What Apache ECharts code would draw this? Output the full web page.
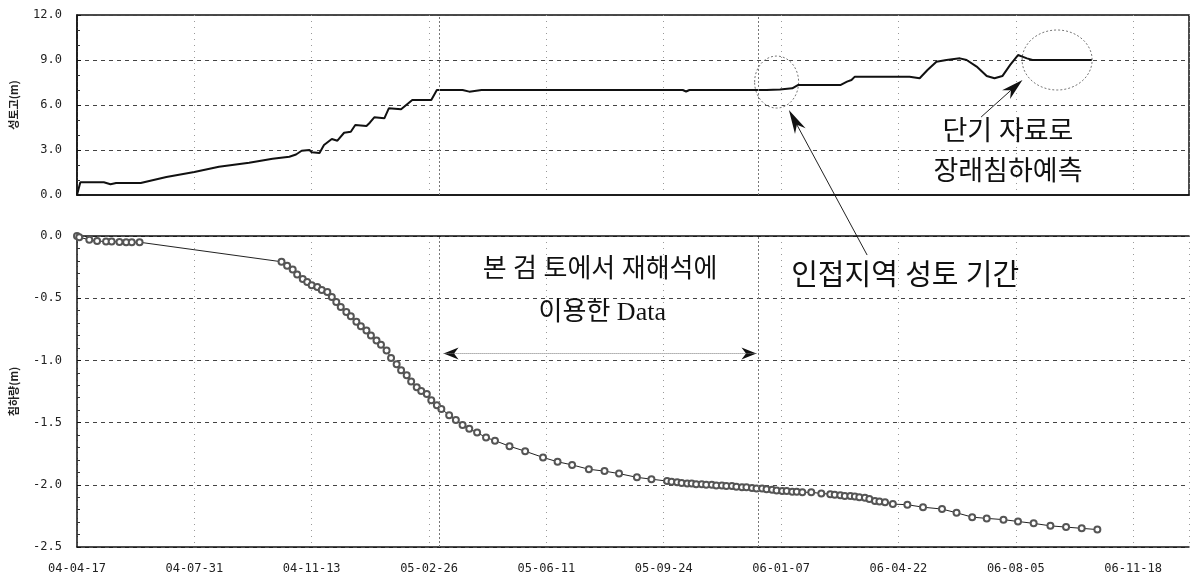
<!DOCTYPE html>
<html>
<head>
<meta charset="utf-8">
<script src="https://cdn.jsdelivr.net/npm/echarts@6/dist/echarts.min.js"></script>
<style>
  html, body { margin: 0; padding: 0; background: #fff; }
  #chart { width: 1192px; height: 579px; }
</style>
</head>
<body>
<div id="chart"></div>
<script>
// Embankment height (m) over time
const fillDates = [
  '2004-04-17','2004-04-20','2004-05-11','2004-05-17','2004-05-22','2004-06-13','2004-07-06','2004-07-31',
  '2004-08-22','2004-09-18','2004-10-09','2004-10-24','2004-10-30','2004-11-04','2004-11-11','2004-11-13',
  '2004-11-20','2004-11-24','2004-12-01','2004-12-06','2004-12-12','2004-12-18','2004-12-22','2005-01-01',
  '2005-01-04','2005-01-08','2005-01-17','2005-01-21','2005-02-01','2005-02-11','2005-02-28','2005-03-05',
  '2005-03-28','2005-04-03','2005-04-14','2005-10-11','2005-10-14','2005-10-17','2005-12-25','2006-01-06',
  '2006-01-17','2006-01-22','2006-03-01','2006-03-07','2006-03-11','2006-03-14','2006-05-02','2006-05-11',
  '2006-05-18','2006-05-26','2006-06-04','2006-06-16','2006-06-22','2006-07-01','2006-07-10','2006-07-17',
  '2006-07-24','2006-07-31','2006-08-07','2006-08-15','2006-08-20','2006-10-12'
];
const fillHeights = [
  0, 0.85, 0.85, 0.72, 0.8, 0.8, 1.2, 1.53,
  1.89, 2.15, 2.42, 2.55, 2.7, 2.95, 3.0, 2.85,
  2.8, 3.33, 3.73, 3.62, 4.15, 4.22, 4.67, 4.6,
  4.82, 5.18, 5.11, 5.78, 5.71, 6.33, 6.33, 7.0,
  7.0, 6.89, 7.0, 7.0, 6.9, 7.0, 7.0, 7.04,
  7.11, 7.33, 7.33, 7.56, 7.67, 7.89, 7.89, 7.78,
  8.33, 8.89, 9.0, 9.11, 9.0, 8.56, 7.93, 7.78,
  7.93, 8.67, 9.33, 9.11, 9.0, 9.0
];

// Measured settlement (m)
const settleDates = [
  '2004-04-17','2004-04-19','2004-04-28','2004-05-05','2004-05-13','2004-05-18','2004-05-25','2004-05-31',
  '2004-06-05','2004-06-12','2004-10-17','2004-10-22','2004-10-27','2004-10-31','2004-11-05','2004-11-09',
  '2004-11-13','2004-11-18','2004-11-22','2004-11-27','2004-12-01','2004-12-05','2004-12-09','2004-12-14',
  '2004-12-18','2004-12-23','2004-12-27','2005-01-01','2005-01-05','2005-01-10','2005-01-14','2005-01-19',
  '2005-01-23','2005-01-28','2005-02-01','2005-02-06','2005-02-10','2005-02-15','2005-02-19','2005-02-24',
  '2005-02-28','2005-03-05','2005-03-09','2005-03-16','2005-03-22','2005-03-28','2005-04-03','2005-04-10',
  '2005-04-18','2005-04-26','2005-05-09','2005-05-23','2005-06-08','2005-06-21','2005-07-04','2005-07-19',
  '2005-08-02','2005-08-15','2005-08-31','2005-09-13','2005-09-27','2005-10-01','2005-10-06','2005-10-10',
  '2005-10-15','2005-10-19','2005-10-23','2005-10-28','2005-11-01','2005-11-06','2005-11-10','2005-11-15',
  '2005-11-19','2005-11-24','2005-11-28','2005-12-03','2005-12-07','2005-12-12','2005-12-16','2005-12-21',
  '2005-12-25','2005-12-30','2006-01-03','2006-01-08','2006-01-12','2006-01-17','2006-01-21','2006-01-26',
  '2006-02-03','2006-02-12','2006-02-20','2006-02-24','2006-03-01','2006-03-05','2006-03-10','2006-03-14',
  '2006-03-18','2006-03-23','2006-03-27','2006-04-01','2006-04-05','2006-04-10','2006-04-17','2006-04-30',
  '2006-05-14','2006-05-31','2006-06-13','2006-06-27','2006-07-10','2006-07-25','2006-08-07','2006-08-21',
  '2006-09-05','2006-09-19','2006-10-03','2006-10-17'
];
const settleValues = [
  0, -0.01, -0.03, -0.04, -0.045, -0.045, -0.048, -0.05,
  -0.05, -0.05, -0.207, -0.24, -0.27, -0.31, -0.345, -0.37,
  -0.395, -0.41, -0.435, -0.45, -0.49, -0.53, -0.57, -0.61,
  -0.645, -0.69, -0.725, -0.76, -0.8, -0.84, -0.875, -0.92,
  -0.98, -1.03, -1.08, -1.12, -1.17, -1.215, -1.245, -1.27,
  -1.32, -1.36, -1.39, -1.44, -1.48, -1.52, -1.55, -1.58,
  -1.62, -1.645, -1.69, -1.73, -1.78, -1.815, -1.84, -1.875,
  -1.89, -1.91, -1.94, -1.955, -1.97, -1.975, -1.98, -1.985,
  -1.99, -1.99, -1.995, -1.995, -2.0, -2.0, -2.005, -2.005,
  -2.01, -2.01, -2.015, -2.02, -2.02, -2.025, -2.03, -2.03,
  -2.035, -2.04, -2.045, -2.05, -2.05, -2.055, -2.055, -2.06,
  -2.06, -2.07, -2.075, -2.08, -2.085, -2.09, -2.09, -2.095,
  -2.1, -2.105, -2.115, -2.13, -2.135, -2.14, -2.155, -2.16,
  -2.18, -2.195, -2.225, -2.26, -2.27, -2.28, -2.295, -2.31,
  -2.33, -2.34, -2.35, -2.36
];

// Axis set-up: days counted from the start date, one label every 105 days
const startDate = '2004-04-17';
const endDate = '2007-01-07';
const tickStepDays = 105;
const fillTicks = [0, 3, 6, 9, 12];
const settleTicks = [-2.5, -2.0, -1.5, -1.0, -0.5, 0.0];

// Period used for re-analysis, and its arrow
const reviewStart = '2005-03-07';
const reviewEnd = '2005-12-18';
const reviewArrowFrom = '2005-03-11';
const reviewArrowTo = '2005-12-16';
const reviewArrowLevel = -0.945;

const DAY = 86400000;
const t0 = Date.parse(startDate + 'T00:00:00Z');
const toDay = s => Math.round((Date.parse(s + 'T00:00:00Z') - t0) / DAY);
const dayLabel = d => {
  const dt = new Date(t0 + d * DAY);
  const p = n => String(n).padStart(2, '0');
  return p(dt.getUTCFullYear() % 100) + '-' + p(dt.getUTCMonth() + 1) + '-' + p(dt.getUTCDate());
};

const fillData = fillDates.map((d, i) => [toDay(d), fillHeights[i]]);
const settleData = settleDates.map((d, i) => [toDay(d), settleValues[i]]);

const monoFont = "'DejaVu Sans Mono', 'Liberation Mono', monospace";
const hDash = { color: '#444', width: 1, type: [4, 4] };
const vDot = { color: '#999', width: 1, type: [1, 5] };

function xAxisFor(gridIndex, showLabels) {
  return {
    type: 'value', gridIndex, min: 0, max: toDay(endDate), interval: tickStepDays,
    axisLine: { show: true, onZero: false, lineStyle: { color: '#111', width: 1.5 } },
    axisTick: { show: false },
    axisLabel: {
      show: showLabels, margin: 16, color: '#222', fontSize: 12, fontFamily: monoFont,
      showMaxLabel: false,
      formatter: v => (v % tickStepDays === 0 ? dayLabel(v) : '')
    },
    splitLine: { show: true, lineStyle: vDot }
  };
}

function yAxisFor(gridIndex, ticks, minorSplit, name) {
  return {
    type: 'value', gridIndex,
    min: ticks[0], max: ticks[ticks.length - 1], interval: ticks[1] - ticks[0],
    name, nameLocation: 'middle', nameGap: 58,
    nameTextStyle: { fontFamily: "'Noto Sans CJK KR'", fontSize: 11, fontWeight: 'bold', color: '#222' },
    axisLine: { show: true, onZero: false, lineStyle: { color: '#111', width: 1.5 } },
    axisTick: { show: true, inside: true, length: 4, lineStyle: { color: '#111' } },
    minorTick: { show: true, splitNumber: minorSplit, length: 3, lineStyle: { color: '#333' } },
    axisLabel: { margin: 15, color: '#222', fontSize: 12, fontFamily: monoFont, formatter: v => v.toFixed(1) },
    splitLine: { show: true, lineStyle: hDash }
  };
}

const rangeLines = {
  silent: true, symbol: 'none', label: { show: false },
  lineStyle: { color: '#777', width: 1, type: [2, 2] },
  data: [{ xAxis: toDay(reviewStart) }, { xAxis: toDay(reviewEnd) }]
};

const chart = echarts.init(document.getElementById('chart'), null, { renderer: 'canvas' });

chart.setOption({
  backgroundColor: '#fff',
  animation: false,
  grid: [
    { left: 77, right: 3, top: 15, height: 180, show: true, borderColor: '#111', borderWidth: 1.5, backgroundColor: 'transparent' },
    { left: 77, right: 3, top: 236, height: 311 }
  ],
  xAxis: [
    xAxisFor(0, false),
    xAxisFor(1, true),
    {
      type: 'value', gridIndex: 1, position: 'top', min: 0, max: toDay(endDate),
      axisLine: { show: true, lineStyle: { color: '#111', width: 1.5 } },
      axisTick: { show: false }, axisLabel: { show: false }, splitLine: { show: false }
    }
  ],
  yAxis: [
    yAxisFor(0, fillTicks, 3, '성토고(m)'),
    yAxisFor(1, settleTicks, 5, '침하량(m)')
  ],
  series: [
    {
      name: '성토고', type: 'line', xAxisIndex: 0, yAxisIndex: 0, data: fillData,
      showSymbol: false, lineStyle: { color: '#111', width: 2 },
      markLine: rangeLines
    },
    {
      name: '침하량', type: 'line', xAxisIndex: 1, yAxisIndex: 1, data: settleData,
      symbol: 'emptyCircle', symbolSize: 6, showAllSymbol: true,
      itemStyle: { color: '#555', borderColor: '#555', borderWidth: 0.9 },
      lineStyle: { color: '#222', width: 1 },
      markLine: {
        silent: true, label: { show: false }, symbol: 'none',
        lineStyle: { color: '#777', width: 1, type: [2, 2] },
        data: [
          { xAxis: toDay(reviewStart) },
          { xAxis: toDay(reviewEnd) },
          [
            { coord: [toDay(reviewArrowFrom), reviewArrowLevel], lineStyle: { color: '#777', type: [1, 1] } },
            { coord: [toDay(reviewArrowTo), reviewArrowLevel] }
          ]
        ]
      }
    }
  ]
});

// Annotation overlay placed in data space of each panel
const px = (g, date, v) => chart.convertToPixel({ gridIndex: g }, [toDay(date), v]);
const krFont = size => size + "px 'Liberation Serif', 'Noto Sans CJK KR', serif";

function label(g, date, v, text, size) {
  const [x, y] = px(g, date, v);
  return {
    type: 'text', x, y, silent: true,
    style: { text, font: krFont(size), fill: '#111', align: 'center', verticalAlign: 'middle',
             textAlign: 'center', textVerticalAlign: 'middle' }
  };
}

function ring(g, date, v, rx, ry) {
  const [cx, cy] = px(g, date, v);
  return {
    type: 'ellipse', silent: true, shape: { cx, cy, rx, ry },
    style: { fill: 'none', stroke: '#777', lineWidth: 1, lineDash: [2, 2] }
  };
}

function head(x0, y0, x1, y1, headLen, headHalf) {
  const L = Math.hypot(x1 - x0, y1 - y0);
  const ux = (x1 - x0) / L, uy = (y1 - y0) / L;
  const nx = -uy, ny = ux;
  const bx = x1 - ux * headLen, by = y1 - uy * headLen;
  const notch = [x1 - ux * headLen * 0.7, y1 - uy * headLen * 0.7];
  return {
    notch,
    shape: { type: 'polygon', silent: true,
      shape: { points: [[x1, y1], [bx + nx * headHalf, by + ny * headHalf], notch, [bx - nx * headHalf, by - ny * headHalf]] },
      style: { fill: '#111' } }
  };
}

function pointer(from, to, headLen, headHalf) {
  const [x0, y0] = px.apply(null, from);
  const [x1, y1] = px.apply(null, to);
  const h = head(x0, y0, x1, y1, headLen, headHalf);
  return [
    { type: 'line', silent: true, shape: { x1: x0, y1: y0, x2: h.notch[0], y2: h.notch[1] },
      style: { stroke: '#222', lineWidth: 1 } },
    h.shape
  ];
}

// Arrowheads on both ends of the review-period span
const [ra0x, ra0y] = px(1, reviewArrowFrom, reviewArrowLevel);
const [ra1x, ra1y] = px(1, reviewArrowTo, reviewArrowLevel);

chart.setOption({
  graphic: [
    ring(0, '2006-01-03', 7.53, 22, 26),
    ring(0, '2006-09-11', 9.0, 35, 30),
    label(0, '2006-07-29', 4.13, '단기 자료로', 27),
    label(0, '2006-07-29', 1.47, '장래침하예측', 27),
    ...pointer([0, '2006-07-05', 5.2], [0, '2006-08-11', 7.67], 22, 6),
    ...pointer([1, '2006-03-25', -0.153], [0, '2006-01-14', 5.67], 24, 6),
    head(ra1x, ra1y, ra0x, ra0y, 15, 6).shape,
    head(ra0x, ra0y, ra1x, ra1y, 15, 6).shape,
    label(1, '2006-04-28', -0.33, '인접지역 성토 기간', 29),
    label(1, '2005-07-29', -0.274, '본 검 토에서 재해석에', 26),
    label(1, '2005-07-31', -0.62, '이용한 Data', 26)
  ]
});
</script>
</body>
</html>
